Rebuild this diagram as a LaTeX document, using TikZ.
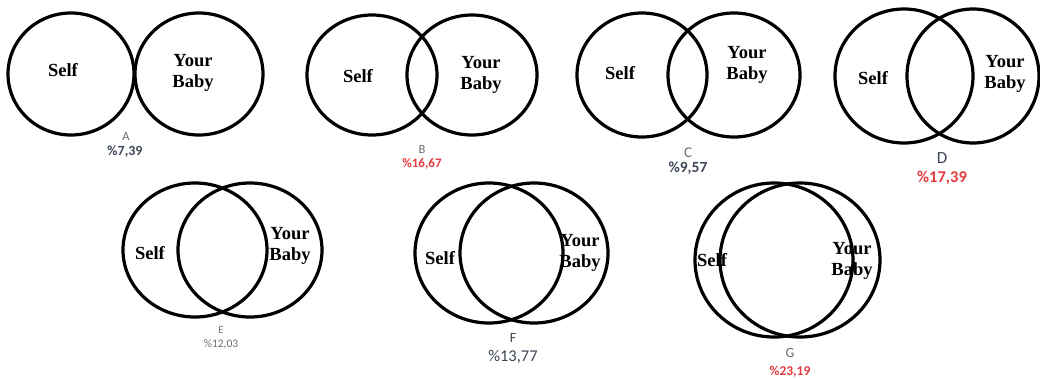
\documentclass[tikz,border=0pt]{standalone}
\usepackage{fontspec}
\setmainfont{Liberation Serif}
\newfontfamily\calfont{Carlito}
\definecolor{pred}{HTML}{E33B3F}
\definecolor{pdark}{HTML}{3E4756}
\definecolor{pgrey}{HTML}{6A6E75}
\tikzset{
  ring/.style={draw=black, line width=3.2pt},
  word/.style={font=\fontsize{18.5}{21}\selectfont\bfseries, align=center, inner sep=0pt},
  letter/.style={font=\calfont\fontsize{12.5}{13}\selectfont, text=pgrey, inner sep=0pt},
  pct/.style={font=\calfont\bfseries\fontsize{14}{15}\selectfont, text=pdark, inner sep=0pt},
}
\begin{document}
\begin{tikzpicture}[x=1pt,y=-1pt]
\fill[white] (0,0) rectangle (1040,378);
\useasboundingbox (0,0) rectangle (1040,378);
% A
\draw[ring] (71,74) ellipse [x radius=63pt, y radius=61pt];
\draw[ring] (199,74) ellipse [x radius=64pt, y radius=61pt];
\node[word] (sa) at (63,70) {Self};
\node[word] (ba) at (193,73) {Your\\Baby};
\node[letter] (la) at (126,136) {A};
\node[pct] (pa) at (125,152) {\%7,39};
% B
\draw[ring] (372,75) ellipse [x radius=65pt, y radius=60pt];
\draw[ring] (472,75) ellipse [x radius=65pt, y radius=60pt];
\node[word] (sb) at (358,76) {Self};
\node[word] (bb) at (481,75) {Your\\Baby};
\node[letter] (lb) at (422,149) {B};
\node[pct, text=pred, font=\calfont\bfseries\fontsize{13}{14}\selectfont] (pb) at (422,164) {\%16,67};
% C
\draw[ring] (642,75) ellipse [x radius=65pt, y radius=62pt];
\draw[ring] (734,75) ellipse [x radius=66pt, y radius=62pt];
\node[word] (sc) at (620,73) {Self};
\node[word] (bc) at (747,65) {Your\\Baby};
\node[letter, font=\calfont\fontsize{15}{16}\selectfont] (lc) at (688,153) {C};
\node[pct, font=\calfont\bfseries\fontsize{15.5}{16}\selectfont] (pc) at (688,168) {\%9,57};
% D
\draw[ring] (904,76) ellipse [x radius=69pt, y radius=67pt];
\draw[ring] (973,76) ellipse [x radius=66pt, y radius=67pt];
\node[word] (sd) at (873,78) {Self};
\node[word] (bd) at (1005,74) {Your\\Baby};
\node[letter, font=\calfont\fontsize{17}{18}\selectfont, text=pdark] (ld) at (942,158) {D};
\node[pct, text=pred, font=\calfont\bfseries\fontsize{16.5}{17}\selectfont] (pd) at (942,178) {\%17,39};
% E
\draw[ring] (195,250) ellipse [x radius=72pt, y radius=67pt];
\draw[ring] (250,250) ellipse [x radius=72pt, y radius=67pt];
\node[word] (se) at (150,253) {Self};
\node[word] (be) at (290,246) {Your\\Baby};
\node[letter, font=\calfont\fontsize{10.5}{11}\selectfont] (le) at (221,330) {E};
\node[pct, text=pgrey, font=\calfont\fontsize{11.5}{12}\selectfont] (pe) at (221,344) {\%12,03};
% F
\draw[ring] (489,253) ellipse [x radius=74pt, y radius=70pt];
\draw[ring] (534,253) ellipse [x radius=74pt, y radius=70pt];
\node[word] (sf) at (440,258) {Self};
\node[word] (bf) at (580,253) {Your\\Baby};
\node[letter, font=\calfont\fontsize{14}{15}\selectfont, text=pdark] (lf) at (513,338) {F};
\node[pct, font=\calfont\fontsize{16.5}{17}\selectfont] (pf) at (513,357) {\%13,77};
% G
\draw[ring] (774,260) ellipse [x radius=79pt, y radius=77pt];
\draw[ring] (800,260) ellipse [x radius=80pt, y radius=77pt];
\node[word] (sg) at (712,260) {Self};
\node[word] (bg) at (852,261) {Your\\Baby};
\node[letter, font=\calfont\fontsize{14}{15}\selectfont] (lg) at (790,353) {G};
\node[pct, text=pred, font=\calfont\bfseries\fontsize{13.5}{14}\selectfont] (pg) at (790,372) {\%23,19};
\end{tikzpicture}
\end{document}
